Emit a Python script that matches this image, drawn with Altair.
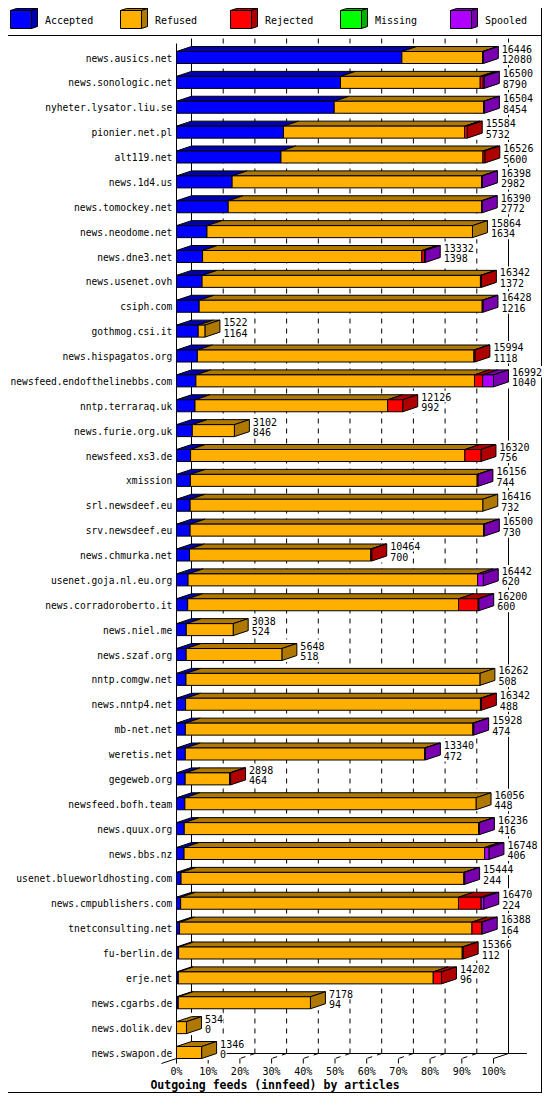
import altair as alt
import pandas as pd

# ---------------- data ----------------
hosts = ["news.ausics.net", "news.sonologic.net", "nyheter.lysator.liu.se", "pionier.net.pl",
         "alt119.net", "news.1d4.us", "news.tomockey.net", "news.neodome.net", "news.dne3.net",
         "news.usenet.ovh", "csiph.com", "gothmog.csi.it", "news.hispagatos.org",
         "newsfeed.endofthelinebbs.com", "nntp.terraraq.uk", "news.furie.org.uk", "newsfeed.xs3.de",
         "xmission", "srl.newsdeef.eu", "srv.newsdeef.eu", "news.chmurka.net", "usenet.goja.nl.eu.org",
         "news.corradoroberto.it", "news.niel.me", "news.szaf.org", "nntp.comgw.net", "news.nntp4.net",
         "mb-net.net", "weretis.net", "gegeweb.org", "newsfeed.bofh.team", "news.quux.org",
         "news.bbs.nz", "usenet.blueworldhosting.com", "news.cmpublishers.com", "tnetconsulting.net",
         "fu-berlin.de", "erje.net", "news.cgarbs.de", "news.dolik.dev", "news.swapon.de"]

offered = [16446, 16500, 16504, 15584, 16526, 16398, 16390, 15864, 13332, 16342, 16428, 1522, 15994,
           16992, 12126, 3102, 16320, 16156, 16416, 16500, 10464, 16442, 16200, 3038, 5648, 16262,
           16342, 15928, 13340, 2898, 16056, 16236, 16748, 15444, 16470, 16388, 15366, 14202, 7178,
           534, 1346]

accepted = [12080, 8790, 8454, 5732, 5600, 2982, 2772, 1634, 1398, 1372, 1216, 1164, 1118, 1040, 992,
            846, 756, 744, 732, 730, 700, 620, 600, 524, 518, 508, 488, 474, 472, 464, 448, 416, 406,
            244, 224, 164, 112, 96, 94, 0, 0]

refused = [4326, 7490, 8010, 9712, 10826, 13376, 13578, 14230, 11754, 14920, 15172, 358, 14826, 14932,
           10324, 2256, 14701, 15372, 15684, 15730, 9714, 15522, 14520, 2514, 5130, 15754, 15804,
           15414, 12828, 2384, 15608, 15780, 16112, 15160, 14891, 15674, 15204, 13666, 7084, 534, 1346]

rejected = [0, 160, 0, 140, 100, 0, 0, 0, 140, 50, 0, 0, 50, 440, 810, 0, 863, 0, 0, 0, 50, 0, 1050,
            0, 0, 0, 50, 0, 0, 50, 0, 0, 0, 0, 1215, 510, 50, 440, 0, 0, 0]

missing = [0, 0, 0, 0, 0, 0, 0, 0, 0, 0, 0, 0, 0, 0, 0, 0, 0, 0, 0, 0, 0, 0, 0, 0, 0, 0, 0, 0, 0, 0,
           0, 0, 0, 0, 0, 0, 0, 0, 0, 0, 0]

spooled = [40, 60, 40, 0, 0, 40, 40, 0, 40, 0, 40, 0, 0, 580, 0, 0, 0, 40, 0, 40, 0, 300, 30, 0, 0, 0,
           0, 40, 40, 0, 0, 40, 230, 40, 140, 40, 0, 0, 0, 0, 0]

categories = ["Accepted", "Refused", "Rejected", "Missing", "Spooled"]
front_colors = ["#0000FF", "#FFAF00", "#FF0000", "#00FF00", "#AF00FF"]
depth_colors = ["#0000AF", "#AF7800", "#AF0000", "#00AF00", "#7800AF"]

pct_values = [0, 10, 20, 30, 40, 50, 60, 70, 80, 90, 100]
pct_labels = ["0%", "10%", "20%", "30%", "40%", "50%", "60%", "70%", "80%", "90%", "100%"]
title_text = "Outgoing feeds (innfeed) by articles"

# ---------------- layout constants (pixels) ----------------
FONT = "DejaVu Sans Mono"
W, H = 534, 1085
X0, X1 = 168.5, 485.5            # front plane: 0 .. max offered
ROW, BAR = 24.875, 12.0
DEPTH_X, DEPTH_Y = 15.0, 5.0
Y0 = 43.5                         # front-top of first bar
n = len(hosts)
Y_LAST = Y0 + (n - 1) * ROW
FLOOR_BACK = Y_LAST + BAR - DEPTH_Y
FLOOR_FRONT = Y_LAST + BAR
TOP_BACK = Y0 - DEPTH_Y - 8
TOP_FRONT = Y0 - 8
TITLE_Y = min(FLOOR_FRONT + 30.5, H - 4)

xmax = max(offered)
cpp = xmax / (X1 - X0)           # articles per pixel
dxu = DEPTH_X * cpp
dyu = DEPTH_Y / ROW
hu = BAR / ROW

xs = alt.Scale(domain=[0, xmax], range=[X0, X1], nice=False, zero=False)
ys = alt.Scale(domain=[0, n - 1], range=[Y0, Y_LAST], nice=False, zero=False)
light = alt.Scale(domain=categories, range=front_colors)
dark = alt.Scale(domain=categories, range=depth_colors)

series = [accepted, refused, rejected, missing, spooled]
seg_rows = []
for i, h in enumerate(hosts):
    cum = 0
    for c, s in zip(categories, series):
        v = s[i]
        if v > 0:
            seg_rows.append({"grp": i, "sid": f"{i}:{c}", "cat": c, "y": i, "y2": i + hu,
                             "xs": cum, "xe": cum + v})
            cum += v
front_df = pd.DataFrame(seg_rows)


def faces(seg, dx, dy, h):
    top, side = [], []
    for r in seg.to_dict("records"):
        top.append({"sid": r["sid"], "cat": r["cat"], "fy": r["y"], "fxl": r["xs"], "fxr": r["xe"]})
        top.append({"sid": r["sid"], "cat": r["cat"], "fy": r["y"] - dy,
                    "fxl": r["xs"] + dx, "fxr": r["xe"] + dx})
    last = seg.groupby("grp").tail(1)
    for r in last.to_dict("records"):
        side.append({"sid": r["sid"], "cat": r["cat"], "fx": r["xe"], "fya": r["y"], "fyb": r["y"] + h})
        side.append({"sid": r["sid"], "cat": r["cat"], "fx": r["xe"] + dx,
                     "fya": r["y"] - dy, "fyb": r["y"] + h - dy})
    return pd.DataFrame(top), pd.DataFrame(side)


def solid3d(seg, dx, dy, h, xsc, ysc):
    top, side = faces(seg, dx, dy, h)
    t = alt.Chart(top).mark_area(orient="horizontal", stroke="black", strokeWidth=1, opacity=1).encode(
        x=alt.X("fxl:Q", scale=xsc, axis=None, stack=None), x2="fxr:Q",
        y=alt.Y("fy:Q", scale=ysc, axis=None),
        color=alt.Color("cat:N", scale=dark, legend=None), detail="sid:N")
    s = alt.Chart(side).mark_area(orient="vertical", stroke="black", strokeWidth=1, opacity=1).encode(
        x=alt.X("fx:Q", scale=xsc, axis=None),
        y=alt.Y("fya:Q", scale=ysc, axis=None, stack=None), y2="fyb:Q",
        color=alt.Color("cat:N", scale=dark, legend=None), detail="sid:N")
    f = alt.Chart(seg).mark_rect(stroke="black", strokeWidth=1, opacity=1).encode(
        x=alt.X("xs:Q", scale=xsc, axis=None), x2="xe:Q",
        y=alt.Y("y:Q", scale=ysc, axis=None), y2="y2:Q",
        fill=alt.Fill("cat:N", scale=light, legend=None))
    return [t, s, f]


one = pd.DataFrame({"k": [0]})


def rule(**kw):
    return alt.Chart(one).mark_rule(color="black", strokeWidth=1, **kw)


def X_at(v):
    return alt.X(datum=v, scale=xs, axis=None)


# frame
sep = rule().encode(x=alt.value(0), x2=alt.value(W), y=alt.value(27.5))
border_r = rule().encode(x=alt.value(W - 0.5), y=alt.value(0), y2=alt.value(H))
border_b = rule().encode(x=alt.value(0), x2=alt.value(W), y=alt.value(H - 0.5))

# 3-D box of the plot
wall0 = rule(xOffset=DEPTH_X).encode(x=X_at(0), y=alt.value(TOP_BACK), y2=alt.value(FLOOR_BACK))
wall100 = rule(xOffset=DEPTH_X).encode(x=X_at(xmax), y=alt.value(TOP_BACK), y2=alt.value(FLOOR_BACK))
front_axis = rule().encode(x=X_at(0), y=alt.value(TOP_FRONT), y2=alt.value(FLOOR_FRONT))
floor_back = rule(xOffset=DEPTH_X, x2Offset=33.4).encode(
    x=X_at(0), x2=alt.X2(datum=xmax), y=alt.value(FLOOR_BACK))
floor_left = rule(xOffset=DEPTH_X, x2Offset=-DEPTH_X).encode(
    x=X_at(0), x2=alt.X2(datum=0), y=alt.value(FLOOR_BACK), y2=alt.value(FLOOR_FRONT + DEPTH_Y))
floor_right = rule(xOffset=DEPTH_X).encode(
    x=X_at(xmax), x2=alt.X2(datum=xmax), y=alt.value(FLOOR_BACK), y2=alt.value(FLOOR_FRONT))

pct = pd.DataFrame({"pct": pct_values, "lab": pct_labels})
pct["cnt"] = pct["pct"] / 100.0 * xmax
inner = pct[(pct["pct"] > 0) & (pct["pct"] < 100)]

grid = alt.Chart(inner).mark_rule(color="black", strokeWidth=1, strokeDash=[5, 5], xOffset=DEPTH_X).encode(
    x=alt.X("cnt:Q", scale=xs, axis=None), y=alt.value(TOP_BACK), y2=alt.value(FLOOR_BACK))
floor_grid = alt.Chart(inner).mark_rule(color="black", strokeWidth=1, strokeDash=[5, 5],
                                         xOffset=DEPTH_X).encode(
    x=alt.X("cnt:Q", scale=xs, axis=None), x2="cnt:Q",
    y=alt.value(FLOOR_BACK), y2=alt.value(FLOOR_FRONT))
ticks = alt.Chart(pct).mark_rule(color="black", strokeWidth=1).encode(
    x=alt.X("cnt:Q", scale=xs, axis=None), y=alt.value(FLOOR_FRONT), y2=alt.value(FLOOR_FRONT + 5))
pct_text = alt.Chart(pct).mark_text(font=FONT, fontSize=10, align="center", baseline="alphabetic",
                                    color="black").encode(
    x=alt.X("cnt:Q", scale=xs, axis=None), y=alt.value(FLOOR_FRONT + 16.2), text="lab:N")

title = alt.Chart(pd.DataFrame({"t": [title_text]})).mark_text(
    font=FONT, fontSize=11.5, fontWeight="bold", align="center", baseline="alphabetic",
    color="black").encode(x=alt.value(267), y=alt.value(TITLE_Y), text="t:N")

# value labels
LAB_DX = 18.5
lab = pd.DataFrame({"host": hosts, "idx": list(range(n)), "total": offered, "acc": accepted})
lab["t_end"] = [t + (LAB_DX - 0.5 + 6.02 * len(str(t)) + 1) * cpp for t in offered]
lab["a_end"] = [t + (LAB_DX - 0.5 + 6.02 * len(str(a)) + 1) * cpp for t, a in zip(offered, accepted)]

bg_t = alt.Chart(lab).mark_rect(fill="white", opacity=1, yOffset=-9, y2Offset=2.5).encode(
    x=alt.X("total:Q", scale=xs, axis=None), x2="t_end:Q",
    y=alt.Y("idx:Q", scale=ys, axis=None), y2="idx:Q")
bg_a = alt.Chart(lab).mark_rect(fill="white", opacity=1, yOffset=2.5, y2Offset=13.5).encode(
    x=alt.X("total:Q", scale=xs, axis=None), x2="a_end:Q",
    y=alt.Y("idx:Q", scale=ys, axis=None), y2="idx:Q")

host_text = alt.Chart(lab).mark_text(font=FONT, fontSize=9.6, align="right", baseline="alphabetic",
                                     dx=-4.2, dy=10, color="black").encode(
    x=X_at(0), y=alt.Y("idx:Q", scale=ys, axis=None), text="host:N")
tot_text = alt.Chart(lab).mark_text(font=FONT, fontSize=10, align="left", baseline="alphabetic",
                                    dx=LAB_DX, dy=1, color="black").encode(
    x=alt.X("total:Q", scale=xs, axis=None), y=alt.Y("idx:Q", scale=ys, axis=None),
    text=alt.Text("total:Q", format="d"))
acc_text = alt.Chart(lab).mark_text(font=FONT, fontSize=10, align="left", baseline="alphabetic",
                                    dx=LAB_DX, dy=11.5, color="black").encode(
    x=alt.X("total:Q", scale=xs, axis=None), y=alt.Y("idx:Q", scale=ys, axis=None),
    text=alt.Text("acc:Q", format="d"))

# ---------------- legend (own scales) ----------------
LSTEP = 110.0
lxs = alt.Scale(domain=[0, 4], range=[2.5, 2.5 + 4 * LSTEP], nice=False, zero=False)
lys = alt.Scale(domain=[0, 1], range=[2.5, 20.5], nice=False, zero=False)
leg_seg = pd.DataFrame({"grp": list(range(5)), "sid": [f"L{i}" for i in range(5)], "cat": categories,
                        "y": [0] * 5, "y2": [1] * 5, "xs": list(range(5)),
                        "xe": [i + 21 / LSTEP for i in range(5)]})
leg_text = alt.Chart(leg_seg).mark_text(font=FONT, fontSize=10, align="left", baseline="alphabetic",
                                        dx=34.5, color="black").encode(
    x=alt.X("xs:Q", scale=lxs, axis=None), y=alt.value(16), text="cat:N")

layers = [sep, border_r, border_b, grid, floor_grid, wall0, wall100, front_axis, floor_back,
          floor_left, floor_right, ticks, bg_t, bg_a]
layers += solid3d(front_df, dxu, dyu, hu, xs, ys)
layers += [host_text, tot_text, acc_text, pct_text, title]
layers += solid3d(leg_seg, 6 / LSTEP, 2 / 18.0, 1.0, lxs, lys)
layers += [leg_text]

chart = alt.layer(*layers).resolve_scale(x="independent", y="independent").properties(
    width=W, height=H, padding=0, autosize=alt.AutoSizeParams(type="none")
).configure_view(strokeWidth=0)

chart.save("out.html", embed_options={"renderer": "svg", "actions": False})
